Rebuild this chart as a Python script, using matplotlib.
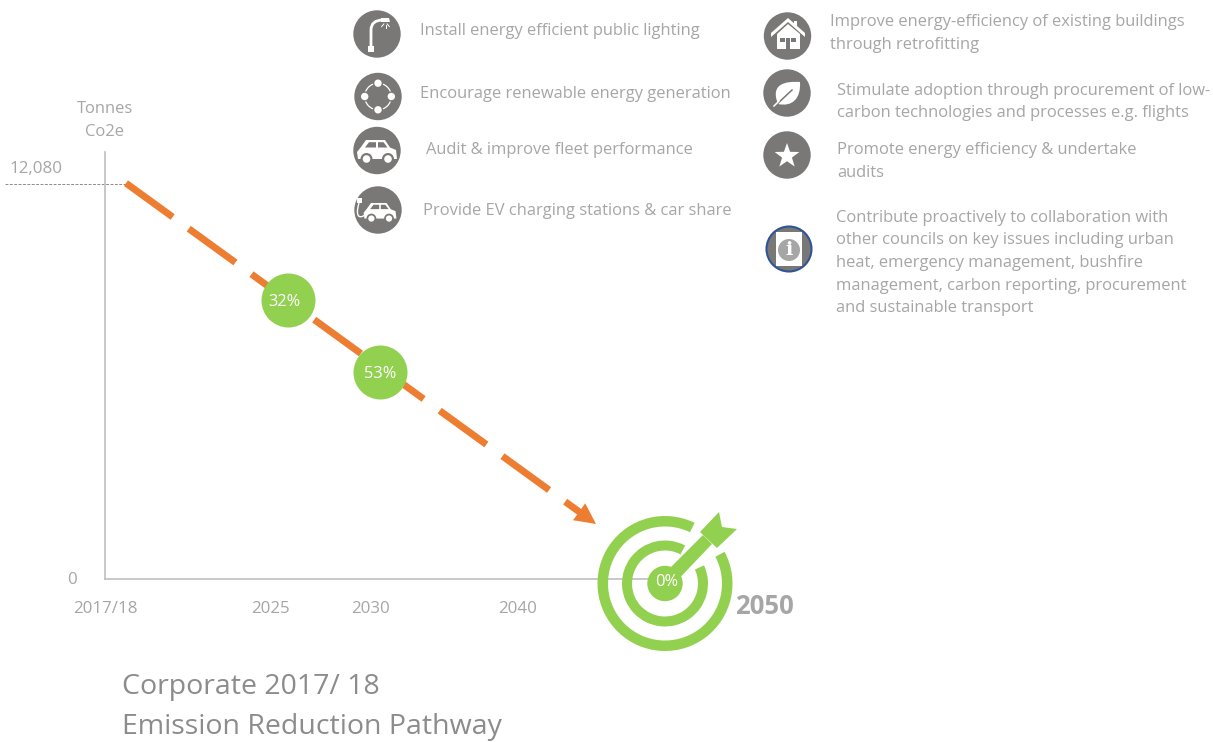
#!/usr/bin/env python3
"""Corporate 2017/18 emission reduction pathway with action icons."""

import numpy as np
import matplotlib
matplotlib.use('Agg')
import matplotlib.pyplot as plt
import matplotlib.patches as patches
from matplotlib.path import Path

# Data
tick_positions = [105, 270, 370, 518]
tick_labels = ['2017/18', '2025', '2030', '2040']
baseline_tonnes = 12080
pathway_x = [126, 596]
pathway_tonnes = [12090, 1680]
milestone_x = [288, 380]
milestone_tonnes = [8520, 6320]
milestone_labels = ['32%', '53%']

left_actions = [
    'Install energy efficient public lighting',
    'Encourage renewable energy generation',
    'Audit & improve fleet performance',
    'Provide EV charging stations & car share',
]
right_actions = [
    'Improve energy-efficiency of existing buildings\nthrough retrofitting',
    'Stimulate adoption through procurement of low-\ncarbon technologies and processes e.g. flights',
    'Promote energy efficiency & undertake\naudits',
    'Contribute proactively to collaboration with\nother councils on key issues including urban\nheat, emergency management, bushfire\nmanagement, carbon reporting, procurement\nand sustainable transport',
]

# Colors
ORANGE = '#ed7d31'
GREEN = '#92d050'
TEXT = '#a6a6a6'
ICON = '#7a7777'
AXIS = '#bfbfbf'
FONT = 'Open Sans'

W, H = 1213, 742
fig = plt.figure(figsize=(W / 100, H / 100), dpi=100, facecolor='white')

# chart axes, placed so the spines land where they are in the original
cx = fig.add_axes([105 / W, 1 - 579 / H, (650 - 105) / W, (579 - 152) / H])
cx.set_xlim(105, 650)
cx.set_ylim(0, baseline_tonnes * (579 - 152) / (579 - 183.5))
cx.patch.set_alpha(0)
for side in ('top', 'right'):
    cx.spines[side].set_visible(False)
for side in ('left', 'bottom'):
    cx.spines[side].set_color(AXIS)
    cx.spines[side].set_linewidth(1.2)
cx.set_yticks([])
cx.set_xticks(tick_positions)
cx.set_xticklabels(tick_labels, family=FONT, fontsize=12.2, color=TEXT)
cx.tick_params(axis='x', length=0, pad=16)

# overlay in pixel coordinates for text and icons
ax = fig.add_axes([0, 0, 1, 1], zorder=5)
ax.set_xlim(0, W)
ax.set_ylim(H, 0)
ax.axis('off')
ax.patch.set_alpha(0)

# dotted baseline level
cx.plot([5, pathway_x[0]], [baseline_tonnes, baseline_tonnes], color='#8c8c8c',
        lw=0.7, ls=(0, (3, 1.5)), clip_on=False, zorder=1)


def along(t):
    return (pathway_x[0] + t * (pathway_x[1] - pathway_x[0]),
            pathway_tonnes[0] + t * (pathway_tonnes[1] - pathway_tonnes[0]))


# pathway, dashed, the last dash runs into the arrow head
end_x, end_y = along(0.977)
cx.plot([pathway_x[0], end_x], [pathway_tonnes[0], end_y], color=ORANGE, lw=5,
        ls=(0, (8.3, 2.86)), dash_capstyle='butt', zorder=2, clip_on=False)
cx.annotate('', xy=(pathway_x[1], pathway_tonnes[1]), xytext=along(0.9),
            arrowprops=dict(arrowstyle='-|>,head_length=1.0,head_width=0.5',
                            mutation_scale=15, color=ORANGE, lw=0, shrinkA=0, shrinkB=0),
            zorder=2, annotation_clip=False)

# milestones
cx.scatter(milestone_x, milestone_tonnes, s=1512, color=GREEN, linewidths=0, zorder=3, clip_on=False)
for x, y, lab, off in zip(milestone_x, milestone_tonnes, milestone_labels, (-4, 0)):
    cx.text(x + off, y - 45, lab, color='white', fontsize=11.8, family=FONT, ha='center',
            va='center', zorder=4)


def label(x, y, s, size=11.85, color=TEXT, **kw):
    ax.text(x, y, s, fontsize=size, color=color, family=FONT, va='center', **kw)


# axis texts
label(105, 109, 'Tonnes', ha='center')
label(105, 132, 'Co2e', ha='center')
label(9, 169, '12,080', size=12.2)
label(67, 580, '0', size=12.2)
label(735, 607, '2050', size=18.5, fontweight='bold')

# title
label(122, 687, 'Corporate 2017/ 18', size=20.5, color='#8c8c8c')
label(122, 727, 'Emission Reduction Pathway', size=20.5, color='#8c8c8c')

# action texts
for (x, y), s in zip([(420, 31), (420, 94), (426, 150), (423, 211)], left_actions):
    label(x, y, s)
for (x, y), s in zip([(830, 33.5), (837, 102), (837, 161.5), (836, 263)], right_actions):
    ax.text(x, y, s, fontsize=11.85, color=TEXT, family=FONT, va='center', linespacing=1.56)


# Helpers for icons
def disc(cx_, cy, r=23.7, color=ICON):
    ax.add_patch(patches.Circle((cx_, cy), r, facecolor=color, edgecolor='none'))


def poly(cx_, cy, pts, color='white', z=None):
    pts = np.array(pts, dtype=float) + (cx_, cy)
    ax.add_patch(patches.Polygon(pts, closed=True, facecolor=color, edgecolor='none', zorder=z))


def car(cx_, cy, scale=1.0):
    body = np.array([(-19, 8), (-20, 1), (-16, -4), (-11, -11), (8, -11), (13, -3.5), (19, -1), (20, 8)]) * scale
    poly(cx_, cy, body)
    poly(cx_, cy, np.array([(-12, -3.5), (-8, -8.8), (-1, -8.8), (-1, -3.5)]) * scale, ICON)
    poly(cx_, cy, np.array([(1, -3.5), (1, -8.8), (6.5, -8.8), (10.5, -3.5)]) * scale, ICON)
    for dx in (-10.5, 11):
        ax.add_patch(patches.Circle((cx_ + dx * scale, cy + 8 * scale), 6 * scale, facecolor=ICON, edgecolor='none'))
        ax.add_patch(patches.Circle((cx_ + dx * scale, cy + 8 * scale), 3.8 * scale, facecolor='white', edgecolor='none'))


# lamp
disc(377, 34)
poly(377, 34, [(-9, 12), (-3, 12), (-3, 18), (-9, 18)])
ax.add_patch(patches.PathPatch(Path([(371, 47), (371, 30), (371, 20), (383, 20)],
                                    [Path.MOVETO, Path.LINETO, Path.CURVE3, Path.CURVE3]),
                               facecolor='none', edgecolor='white', lw=2))
poly(377, 34, [(4, -16), (12, -16), (13, -12), (4, -12)])
for a in (-40, 0, 40):
    dx, dy = np.sin(np.radians(a)), np.cos(np.radians(a))
    ax.plot([385.5 + 2.5 * dx, 385.5 + 6 * dx], [22 + 2.5 * dy, 22 + 6 * dy], color='white', lw=0.7)

# nodes
disc(378, 96.5)
for a in (0, 90, 180, 270):
    ax.add_patch(patches.Circle((378 + 13.3 * np.cos(np.radians(a)), 96.5 + 13.3 * np.sin(np.radians(a))),
                                3.7, facecolor='white', edgecolor='none'))
    ax.add_patch(patches.Arc((378, 96.5), 26.6, 26.6, theta1=a + 22, theta2=a + 68, color='white', lw=0.9))

# cars
disc(377, 150.5)
car(377, 151)
disc(378, 210)
car(380, 212, 0.82)
ax.add_patch(patches.PathPatch(Path([(359, 203), (354, 220), (362, 218), (366, 214)],
                                    [Path.MOVETO, Path.CURVE4, Path.CURVE4, Path.CURVE4]),
                               facecolor='none', edgecolor='white', lw=1))
poly(0, 0, [(357, 198), (362, 198), (362, 203), (357, 203)])

# house
disc(787.5, 36)
poly(788, 36, [(-17, -3), (0, -18), (17, -3), (17, 1), (0, -14), (-17, 1)])
poly(788, 36, [(6, -15), (9, -15), (9, -8), (6, -11)])
poly(788, 36, [(-11, -2), (0, -12), (12, -2), (12, 13), (-11, 13)])
poly(788, 36, [(-8, 2), (-3, 2), (-3, 6), (-8, 6)], ICON)
poly(788, 36, [(3, 2), (8, 2), (8, 6), (3, 6)], ICON)
poly(788, 36, [(-2, 2), (2, 2), (2, 13), (-2, 13)], ICON)

# leaf
disc(787, 93)
leaf = Path([(778, 104), (770, 84), (785, 81), (800, 82), (801, 99), (792, 107), (778, 104)],
            [Path.MOVETO] + [Path.CURVE4] * 6)
ax.add_patch(patches.PathPatch(leaf, facecolor='white', edgecolor='none'))
ax.plot([775, 792], [106, 90], color=ICON, lw=1.1)
ax.plot([774, 779], [106, 101], color='white', lw=1.1)

# star
disc(787, 155)
angles = np.radians(np.arange(0, 360, 36) - 90)
radii = np.tile([13, 5.2], 5)
poly(787, 156, np.c_[radii * np.cos(angles), radii * np.sin(angles)])

# info
ax.add_patch(patches.Circle((789, 249), 22.5, facecolor=ICON, edgecolor='#2f5597', lw=1.5))
poly(789, 249, [(-13, -17), (13, -17), (13, 17), (-13, 17)])
ax.add_patch(patches.Circle((789, 250), 11, facecolor='#a6a6a6', edgecolor='none'))
ax.text(789, 250, 'i', fontsize=14, fontweight='bold', color='white', family='DejaVu Serif',
        ha='center', va='center')

# target
tx, ty = 665, 583.5
ax.add_patch(patches.Wedge((tx, ty), 67.5, -28, 296, width=10.5, facecolor=GREEN, edgecolor='none'))
ax.add_patch(patches.Wedge((tx, ty), 43, -25, 298, width=10, facecolor=GREEN, edgecolor='none'))
ax.add_patch(patches.Circle((tx, ty), 17.7, facecolor=GREEN, edgecolor='none'))
poly(0, 0, [(660, 578), (703, 535), (712, 544), (670, 588)], GREEN)
poly(0, 0, [(700, 532), (719, 512), (722, 527), (737, 529), (717, 548)], GREEN)
ax.text(tx + 2, ty - 1.5, '0%', color='white', fontsize=11.8, family=FONT, ha='center', va='center')

fig.savefig('out.png', dpi=100, facecolor='white')
